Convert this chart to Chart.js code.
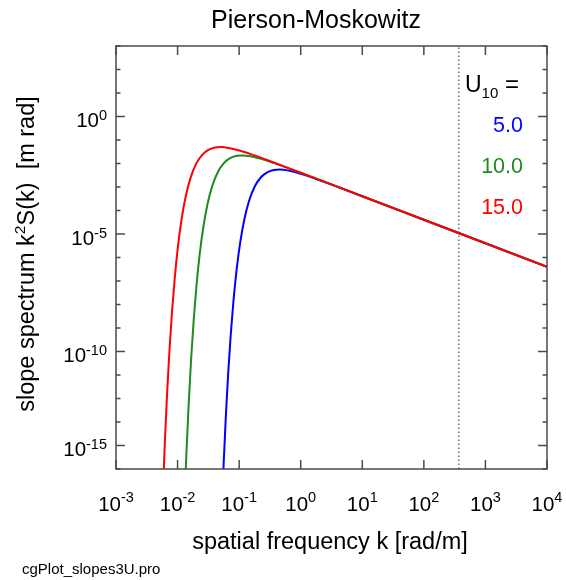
<!DOCTYPE html>
<html>
<head>
<meta charset="utf-8">
<script src="https://cdn.jsdelivr.net/npm/chart.js@4.4.1/dist/chart.umd.min.js"></script>
<style>
  body { margin: 0; background: #fff; }
  #wrap { width: 566px; height: 580px; }
</style>
</head>
<body>
<div id="wrap"><canvas id="pmChart" width="566" height="580"></canvas></div>
<script>
// slope spectrum k^2 S(k), one curve per wind speed
const kU5 = [0.052133, 0.056143, 0.060822, 0.066351, 0.072986, 0.081096, 0.091233, 0.10427, 0.12164, 0.14597, 0.18247, 0.22808, 0.28072, 0.36493, 0.45616, 0.60822, 0.91233, 1.4597, 2.4329, 4.5616, 10, 100, 1000, 10000];
const sU5 = [1.39e-17, 1.91e-15, 1.79e-13, 1.16e-11, 5.12e-10, 1.55e-8, 3.2e-7, 4.49e-6, 4.27e-5, 2.72e-4, 1.15e-3, 2.67e-3, 4.13e-3, 5.3e-3, 5.53e-3, 5.1e-3, 3.94e-3, 2.65e-3, 1.64e-3, 8.84e-4, 4.05e-4, 4.05e-5, 4.05e-6, 4.05e-7];

const kU10 = [0.013033, 0.014035, 0.015205, 0.016587, 0.018246, 0.020273, 0.022808, 0.026066, 0.03041, 0.036492, 0.045615, 0.057019, 0.070177, 0.09123, 0.11404, 0.15205, 0.22808, 0.36492, 0.6082, 1.1404, 3, 10, 100, 1000, 10000];
const sU10 = [5.55e-17, 7.62e-15, 7.17e-13, 4.64e-11, 2.05e-9, 6.2e-8, 1.28e-6, 1.8e-5, 1.71e-4, 1.09e-3, 4.6e-3, 1.068e-2, 1.652e-2, 2.118e-2, 2.212e-2, 2.041e-2, 1.578e-2, 1.059e-2, 6.55e-3, 3.53e-3, 1.35e-3, 4.05e-4, 4.05e-5, 4.05e-6, 4.05e-7];

const kU15 = [0.005793, 0.006238, 0.006758, 0.007373, 0.00811, 0.009011, 0.010138, 0.011586, 0.013517, 0.01622, 0.020275, 0.025344, 0.031192, 0.04055, 0.050688, 0.067583, 0.10138, 0.1622, 0.27033, 0.50688, 1, 3, 10, 100, 1000, 10000];
const sU15 = [1.25e-16, 1.72e-14, 1.61e-12, 1.04e-10, 4.61e-9, 1.39e-7, 2.88e-6, 4.04e-5, 3.84e-4, 2.45e-3, 1.035e-2, 2.404e-2, 3.718e-2, 4.766e-2, 4.976e-2, 4.592e-2, 3.549e-2, 2.384e-2, 1.474e-2, 7.95e-3, 4.05e-3, 1.35e-3, 4.05e-4, 4.05e-5, 4.05e-6, 4.05e-7];

const windSpeeds = ['5.0', '10.0', '15.0'];
const lineColors = ['#0000ff', '#1f8b1f', '#ff0000'];

const kCapillary = 370;   // dotted vertical line

const xTickPow = [-3, -2, -1, 0, 1, 2, 3, 4];
const xTickLabels = ['-3', '-2', '-1', '0', '1', '2', '3', '4'];
const yMajorPow = [0, -5, -10, -14];
const yTickLabels = ['0', '-5', '-10', '-15'];
const yMinorPow = [3, 2, 1, 0, -1, -2, -3, -4, -5, -6, -7, -8, -9, -10, -11, -12, -13, -14, -15];

const FONT = '"Liberation Sans", Arial, Helvetica, sans-serif';

const toXY = (ks, ss) => ks.map((k, i) => ({x: k, y: ss[i]}));

// draws text pieces one after another (for super/subscripts)
function drawRuns(ctx, x, y, runs, align) {
  let total = 0;
  runs.forEach(r => { ctx.font = r.size + 'px ' + FONT; r.w = ctx.measureText(r.text).width; total += r.w; });
  let cx = align === 'right' ? x - total : align === 'center' ? x - total / 2 : x;
  ctx.textAlign = 'left';
  runs.forEach(r => {
    ctx.font = r.size + 'px ' + FONT;
    ctx.fillStyle = r.color || '#000';
    ctx.fillText(r.text, cx, y + (r.dy || 0));
    cx += r.w;
  });
}

const framePlugin = {
  id: 'idlFrame',
  afterDatasetsDraw(chart) {
    const ctx = chart.ctx;
    const {left, right, top, bottom} = chart.chartArea;
    const xs = chart.scales.x, ys = chart.scales.y;
    ctx.save();
    ctx.textBaseline = 'alphabetic';
    ctx.strokeStyle = '#4a4a4a';
    ctx.lineWidth = 1.5;
    ctx.strokeRect(left, top, right - left, bottom - top);

    const line = (x1, y1, x2, y2) => { ctx.beginPath(); ctx.moveTo(x1, y1); ctx.lineTo(x2, y2); ctx.stroke(); };

    xTickPow.forEach((p, i) => {
      const px = xs.getPixelForValue(Math.pow(10, p));
      line(px, bottom, px, bottom - 9);
      line(px, top, px, top + 9);
      drawRuns(ctx, px, 511, [{text: '10', size: 20.5}, {text: xTickLabels[i], size: 14.5, dy: -9}], 'center');
    });

    yMinorPow.forEach(p => {
      const py = ys.getPixelForValue(Math.pow(10, p));
      const len = yMajorPow.includes(p) ? 9 : 4.5;
      line(left, py, left + len, py);
      line(right, py, right - len, py);
    });
    yMajorPow.forEach((p, i) => {
      const py = ys.getPixelForValue(Math.pow(10, p));
      drawRuns(ctx, 107, py + 10.5, [{text: '10', size: 20.5}, {text: yTickLabels[i], size: 14.5, dy: -7}], 'right');
    });

    // titles
    ctx.fillStyle = '#000';
    ctx.font = '25px ' + FONT;
    ctx.textAlign = 'center';
    ctx.fillText('Pierson-Moskowitz', 316, 28);
    ctx.font = '23.5px ' + FONT;
    ctx.fillText('spatial frequency k [rad/m]', 330, 549);

    ctx.save();
    ctx.translate(34, 254);
    ctx.rotate(-Math.PI / 2);
    drawRuns(ctx, 0, 0, [
      {text: 'slope spectrum k', size: 23.5},
      {text: '2', size: 15.5, dy: -9},
      {text: 'S(k)  [m rad]', size: 23.5}
    ], 'center');
    ctx.restore();

    // legend
    drawRuns(ctx, 465, 92, [{text: 'U', size: 23}, {text: '10', size: 15, dy: 6}, {text: ' =', size: 24}], 'left');
    windSpeeds.forEach((w, i) => {
      drawRuns(ctx, 523, 132 + i * 41, [{text: w, size: 21.5, color: lineColors[i]}], 'right');
    });

    ctx.font = '15px ' + FONT;
    ctx.textAlign = 'left';
    ctx.fillStyle = '#000';
    ctx.fillText('cgPlot_slopes3U.pro', 22, 574);
    ctx.restore();
  }
};

const curve = (ks, ss, color) => ({
  data: toXY(ks, ss),
  borderColor: color,
  borderWidth: 2,
  pointRadius: 0,
  cubicInterpolationMode: 'monotone',
  clip: 0
});

new Chart(document.getElementById('pmChart'), {
  type: 'line',
  data: {
    datasets: [
      curve(kU15, sU15, lineColors[2]),
      curve(kU10, sU10, lineColors[1]),
      curve(kU5, sU5, lineColors[0]),
      {
        data: [{x: kCapillary, y: 1e-15}, {x: kCapillary, y: 1e3}],
        borderColor: '#555',
        borderWidth: 1.3,
        borderDash: [1.5, 2.5],
        pointRadius: 0,
        clip: 0
      }
    ]
  },
  options: {
    responsive: false,
    animation: false,
    layout: {padding: {left: 116, right: 19, top: 46, bottom: 111}},
    scales: {
      x: {type: 'logarithmic', min: 1e-3, max: 1e4, display: false},
      y: {type: 'logarithmic', min: 1e-15, max: 1e3, display: false}
    },
    plugins: {legend: {display: false}, tooltip: {enabled: false}}
  },
  plugins: [framePlugin]
});
</script>
</body>
</html>
